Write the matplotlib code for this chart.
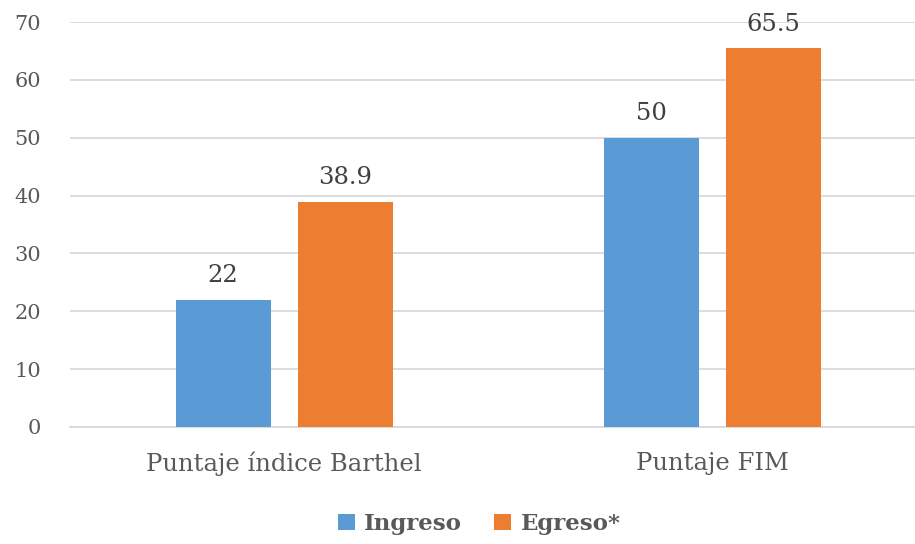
import matplotlib
matplotlib.use("Agg")
import matplotlib.pyplot as plt
import numpy as np

categories = ["Puntaje índice Barthel", "Puntaje FIM"]
series_names = ["Ingreso", "Egreso*"]
ingreso = [22, 50]
egreso = [38.9, 65.5]
value_labels_ing = ["22", "50"]
value_labels_egr = ["38.9", "65.5"]
yticks = [0, 10, 20, 30, 40, 50, 60, 70]

plt.rcParams['font.family'] = ['DejaVu Serif']
txt = "#595959"
blue = "#5B9BD5"
orange = "#ED7D31"

fig = plt.figure(figsize=(9.15, 5.44), dpi=100)
ax = fig.add_axes([70/915, 117/544, 845/915, 405/544])

x = np.arange(len(categories))
w = 0.222
off = 0.1425
b1 = ax.bar(x - off, ingreso, w, color=blue, label=series_names[0], zorder=3)
b2 = ax.bar(x + off, egreso, w, color=orange, label=series_names[1], zorder=3)

for rect, lab in zip(b1, value_labels_ing):
    ax.annotate(lab, (rect.get_x() + rect.get_width()/2, rect.get_height()),
                xytext=(0, 9), textcoords="offset points", ha="center", va="bottom",
                fontsize=17.5, color="#404040")
for rect, lab in zip(b2, value_labels_egr):
    ax.annotate(lab, (rect.get_x() + rect.get_width()/2, rect.get_height()),
                xytext=(0, 9), textcoords="offset points", ha="center", va="bottom",
                fontsize=17.5, color="#404040")

ax.set_xlim(-0.5, 1.474)
ax.set_ylim(0, 70)
ax.set_yticks(yticks)
ax.set_yticklabels([str(t) for t in yticks], fontsize=15, color=txt)
ax.set_xticks(x)
ax.set_xticklabels(categories, fontsize=17.5, color=txt)
ax.tick_params(axis='both', length=0)
ax.tick_params(axis='y', pad=21)
ax.tick_params(axis='x', pad=18)
for lbl in ax.get_yticklabels():
    lbl.set_horizontalalignment('right')
ax.grid(axis='y', color="#D9D9D9", linewidth=1.3, zorder=0)
for s in ["top", "right", "left"]:
    ax.spines[s].set_visible(False)
ax.spines["bottom"].set_color("#D9D9D9")
ax.spines["bottom"].set_linewidth(1.3)

leg = fig.legend(handles=[b1, b2], labels=series_names, loc="center",
                 bbox_to_anchor=(479/915, 1 - 524/544), ncol=2, frameon=False,
                 prop={'size': 16.5, 'weight': 'bold'}, handlelength=0.75, handleheight=0.75,
                 handletextpad=0.4, columnspacing=1.4)
for t in leg.get_texts():
    t.set_color(txt)

fig.savefig("out.png", dpi=100)
